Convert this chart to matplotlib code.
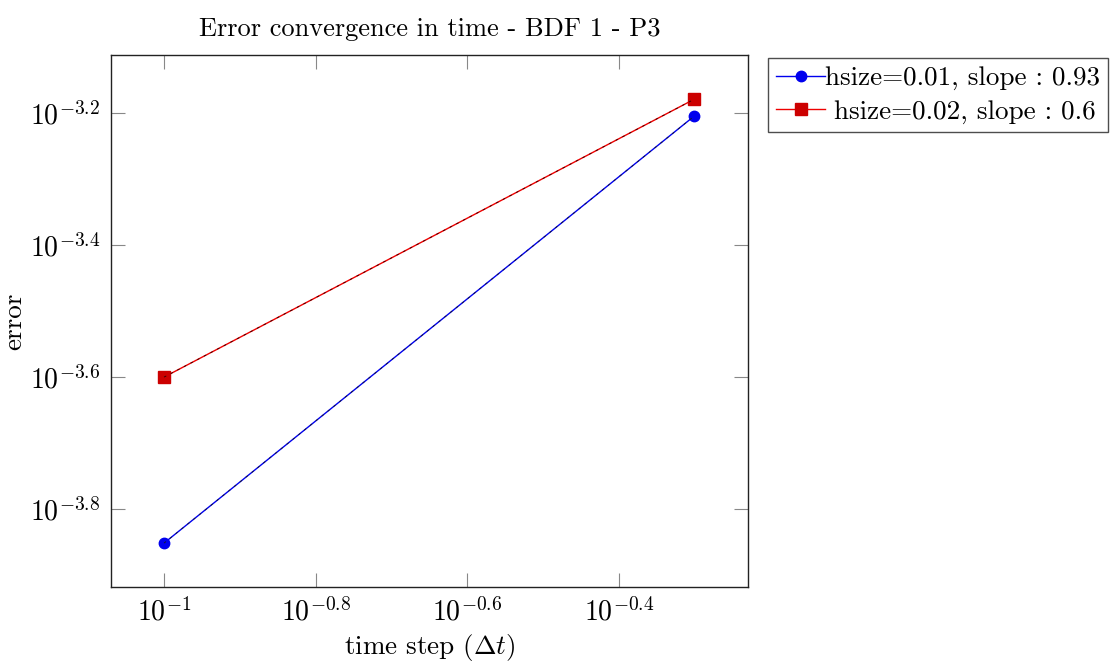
import matplotlib
matplotlib.use("Agg")
import matplotlib.pyplot as plt
from matplotlib.ticker import FixedLocator, FixedFormatter, NullLocator

plt.rcParams['font.family'] = 'serif'
plt.rcParams['font.serif'] = ['cmr10', 'DejaVu Serif']
plt.rcParams['mathtext.fontset'] = 'cm'
plt.rcParams['axes.formatter.use_mathtext'] = True

# Data
time_steps = [0.1, 0.5]
err_h001 = [10**-3.8515, 10**-3.2045]
err_h002 = [10**-3.600, 10**-3.179]
labels = ["hsize=0.01, slope : 0.93", " hsize=0.02, slope : 0.6"]
x_tick_exps = [-1, -0.8, -0.6, -0.4]
y_tick_exps = [-3.8, -3.6, -3.4, -3.2]
x_tick_labels = ["$10^{-1}$", "$10^{-0.8}$", "$10^{-0.6}$", "$10^{-0.4}$"]
y_tick_labels = ["$10^{-3.8}$", "$10^{-3.6}$", "$10^{-3.4}$", "$10^{-3.2}$"]

fig = plt.figure(figsize=(11.12, 6.66), dpi=100)
ax = fig.add_axes([111/1112, 1-587/666, (748-111)/1112, (587-55)/666])

l1, = ax.plot(time_steps, err_h001, color='#0000ee', lw=1.0, marker='o', ms=7.5,
              label=labels[0], zorder=3)
ax.plot(time_steps, err_h001, color='#1a1a1a', lw=0.6, ls=(0, (3, 6)), zorder=3.5)
l2, = ax.plot(time_steps, err_h002, color='#ee0000', lw=1.0, marker='s', ms=8,
              mfc='#cc0000', mec='#cc0000', label=labels[1], zorder=3)
ax.plot(time_steps, err_h002, color='#2a0000', lw=0.6, ls=(0, (3, 6)), zorder=3.5)

ax.set_xscale('log')
ax.set_yscale('log')
ax.set_xlim(10**-1.0699, 10**-0.2302)
ax.set_ylim(10**-3.918, 10**-3.112)

ax.xaxis.set_major_locator(FixedLocator([10**e for e in x_tick_exps]))
ax.xaxis.set_major_formatter(FixedFormatter(x_tick_labels))
ax.yaxis.set_major_locator(FixedLocator([10**e for e in y_tick_exps]))
ax.yaxis.set_major_formatter(FixedFormatter(y_tick_labels))
ax.xaxis.set_minor_locator(NullLocator())
ax.yaxis.set_minor_locator(NullLocator())
ax.tick_params(which='major', direction='in', length=10, width=0.8, color='#888888',
               top=True, right=True, labelsize=20, pad=8)
for s in ax.spines.values():
    s.set_linewidth(1.0)
    s.set_color('#222222')

ax.set_xlabel(r"time step ($\Delta t$)", fontsize=19.5, labelpad=4)
ax.set_ylabel("error", fontsize=19.5, labelpad=2)
ax.set_title("Error convergence in time - BDF 1 - P3", fontsize=19, pad=14)

leg = fig.legend(handles=[l1, l2], loc='upper left',
                 bbox_to_anchor=(768/1112, 1-58/666), fontsize=19.5,
                 frameon=True, fancybox=False, edgecolor='#222222',
                 borderpad=0.3, labelspacing=0.35, handlelength=1.8,
                 handletextpad=0.0, borderaxespad=0)
leg.get_frame().set_linewidth(1.0)

fig.savefig("out.png", dpi=100)
